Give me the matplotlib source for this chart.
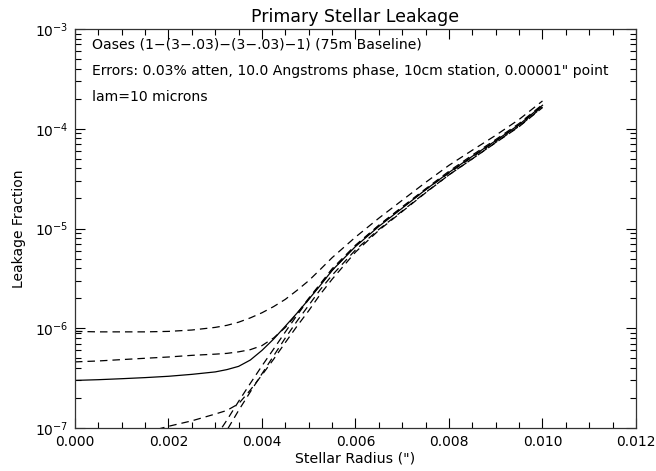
import numpy as np
import matplotlib
matplotlib.use('Agg')
import matplotlib.pyplot as plt
from matplotlib.ticker import MultipleLocator, LogLocator

# Stellar radius grid (arcsec)
radius = [0.0, 0.0005, 0.001, 0.0015, 0.002, 0.0025, 0.003, 0.00325, 0.0035,
          0.00375, 0.004, 0.00425, 0.0045, 0.00475, 0.005, 0.00525, 0.0055,
          0.006, 0.0065, 0.007, 0.0075, 0.008, 0.0085, 0.009, 0.0095, 0.01]

nan = np.nan

# Leakage fraction curves
leak_solid = [3.0e-7, 3.05e-7, 3.12e-7, 3.2e-7, 3.3e-7, 3.45e-7, 3.65e-7, 3.85e-7, 4.15e-7,
              4.8e-7, 6.0e-7, 7.8e-7, 1.05e-6, 1.42e-6, 1.95e-6, 2.7e-6, 3.8e-6,
              6.6e-6, 1.05e-5, 1.6e-5, 2.45e-5, 3.65e-5, 5.3e-5, 7.6e-5, 1.1e-4, 1.72e-4]
leak_top = [9.3e-7, 9.2e-7, 9.2e-7, 9.2e-7, 9.3e-7, 9.6e-7, 1.02e-6, 1.07e-6, 1.15e-6,
            1.27e-6, 1.43e-6, 1.65e-6, 1.95e-6, 2.4e-6, 3.0e-6, 3.9e-6, 5.1e-6,
            8.2e-6, 1.27e-5, 1.92e-5, 2.9e-5, 4.3e-5, 6.1e-5, 8.6e-5, 1.24e-4, 1.9e-4]
leak_mid = [4.6e-7, 4.7e-7, 4.85e-7, 5.0e-7, 5.15e-7, 5.35e-7, 5.5e-7, 5.6e-7, 5.8e-7,
            6.1e-7, 6.7e-7, 8.0e-7, 1.02e-6, 1.4e-6, 2.0e-6, 2.8e-6, 3.95e-6,
            6.8e-6, 1.08e-5, 1.65e-5, 2.5e-5, 3.75e-5, 5.45e-5, 7.8e-5, 1.13e-4, 1.75e-4]
leak_low = [nan, nan, nan, 9.0e-8, 1.04e-7, 1.18e-7, 1.38e-7, 1.5e-7, 1.75e-7,
            2.4e-7, 3.4e-7, 4.9e-7, 7.2e-7, 1.05e-6, 1.5e-6, 2.2e-6, 3.1e-6,
            5.8e-6, 9.6e-6, 1.48e-5, 2.28e-5, 3.45e-5, 5.0e-5, 7.3e-5, 1.06e-4, 1.65e-4]
leak_steep1 = [nan, nan, nan, nan, nan, nan, 8.0e-8, 1.2e-7, 1.85e-7,
               2.8e-7, 4.2e-7, 6.2e-7, 9.2e-7, 1.35e-6, 1.95e-6, 2.75e-6, 3.8e-6,
               6.7e-6, 1.07e-5, 1.62e-5, 2.45e-5, 3.6e-5, 5.2e-5, 7.5e-5, 1.09e-4, 1.68e-4]
leak_steep2 = [nan, nan, nan, nan, nan, nan, 6.0e-8, 9.5e-8, 1.5e-7,
               2.3e-7, 3.5e-7, 5.3e-7, 8.0e-7, 1.18e-6, 1.7e-6, 2.45e-6, 3.4e-6,
               6.1e-6, 9.8e-6, 1.5e-5, 2.3e-5, 3.45e-5, 5.0e-5, 7.25e-5, 1.05e-4, 1.63e-4]

notes = ['Oases (1\u2212(3\u2212.03)\u2212(3\u2212.03)\u22121) (75m Baseline)',
         'Errors: 0.03% atten, 10.0 Angstroms phase, 10cm station, 0.00001" point',
         'lam=10 microns']

fig = plt.figure(figsize=(6.56, 4.71), dpi=100)
ax = fig.add_axes([0.1143, 0.0913, 0.8552, 0.8471])

dash = (0, (6, 4))
ax.plot(radius, leak_solid, '-', color='k', lw=0.9)
ax.plot(radius, leak_top, color='k', lw=0.9, linestyle=dash)
ax.plot(radius, leak_mid, color='k', lw=0.9, linestyle=dash)
ax.plot(radius, leak_low, color='k', lw=0.9, linestyle=dash)
ax.plot(radius, leak_steep1, color='k', lw=0.9, linestyle=dash)
ax.plot(radius, leak_steep2, color='k', lw=0.9, linestyle=dash)

ax.set_yscale('log')
ax.set_xlim(0, 0.012)
ax.set_ylim(1e-7, 1e-3)

ax.xaxis.set_major_locator(MultipleLocator(0.002))
ax.xaxis.set_minor_locator(MultipleLocator(0.0005))
ax.xaxis.set_major_formatter(plt.FormatStrFormatter('%.3f'))
ax.yaxis.set_major_locator(LogLocator(base=10, numticks=10))
ax.yaxis.set_minor_locator(LogLocator(base=10, subs=np.arange(2, 10), numticks=10))

ax.tick_params(which='both', direction='in', top=True, right=True,
               labelsize=10, colors='k', width=0.8)
ax.tick_params(which='major', length=7.5, pad=5)
ax.tick_params(which='minor', length=4)
ax.tick_params(axis='y', which='minor', labelleft=False)
for s in ax.spines.values():
    s.set_linewidth(0.9)
    s.set_color('#333333')

ax.set_title('Primary Stellar Leakage', fontsize=12.5, pad=5)
ax.set_xlabel('Stellar Radius (")', fontsize=10.2, labelpad=2)
ax.set_ylabel('Leakage Fraction', fontsize=10, labelpad=6)

for i, txt in enumerate(notes):
    ax.text(0.03, 0.96 - i * 0.065, txt, transform=ax.transAxes,
            fontsize=10.1, va='center', ha='left')

fig.savefig('out.png', dpi=100)
